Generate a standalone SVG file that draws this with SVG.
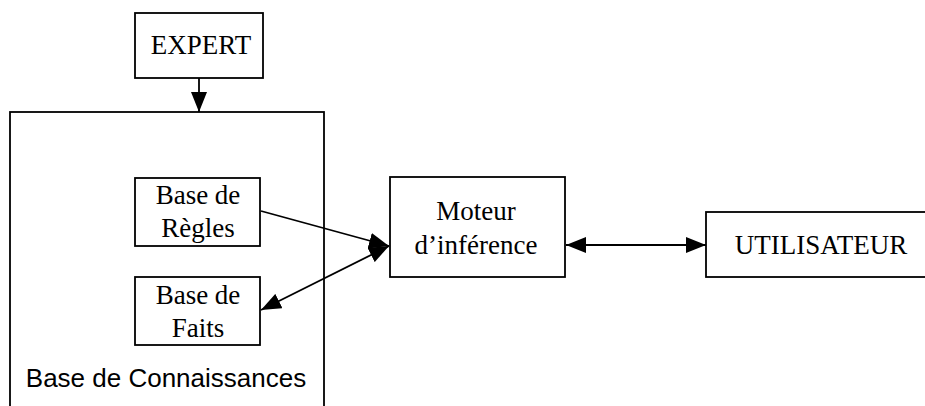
<svg xmlns="http://www.w3.org/2000/svg" width="925" height="406" viewBox="0 0 925 406">
<style>
.box{fill:#fff;stroke:#000;stroke-width:1.8}
.frame{fill:none;stroke:#000;stroke-width:1.8}
.t{font-family:"Liberation Serif","Times New Roman",serif;font-size:27px;fill:#000;text-anchor:middle}
.s{font-family:"Liberation Sans",Arial,sans-serif;font-size:26px;fill:#000;text-anchor:middle}
.c{fill:none;stroke:#000;stroke-width:1.8}
</style>
<defs>
<marker id="ah" markerUnits="userSpaceOnUse" markerWidth="20" markerHeight="16" refX="20" refY="8" orient="auto-start-reverse" viewBox="0 0 20 16">
<path d="M0,0 L20,8 L0,16 z" fill="#000"/>
</marker>
</defs>
<g id="base-connaissances">
<rect class="frame" x="10" y="112" width="314" height="310"/>
<text class="s" x="166" y="387">Base de Connaissances</text>
</g>
<g id="expert">
<rect class="box" x="135" y="13" width="128" height="65"/>
<text class="t" x="201" y="54">EXPERT</text>
</g>
<g id="base-regles">
<rect class="box" x="135" y="178" width="125" height="68"/>
<text class="t" x="198" y="204">Base de</text>
<text class="t" x="198" y="237">Règles</text>
</g>
<g id="base-faits">
<rect class="box" x="135" y="277" width="125" height="68"/>
<text class="t" x="198" y="304">Base de</text>
<text class="t" x="198" y="337">Faits</text>
</g>
<g id="moteur">
<rect class="box" x="390" y="177" width="175" height="100"/>
<text class="t" x="476" y="220">Moteur</text>
<text class="t" x="476" y="254">d’inférence</text>
</g>
<g id="utilisateur">
<rect class="box" x="706" y="212" width="222" height="65"/>
<text class="t" x="821" y="254">UTILISATEUR</text>
</g>
<g id="connectors">
<line class="c" x1="261" y1="211" x2="389" y2="246" marker-end="url(#ah)"/>
<line class="c" x1="199" y1="78" x2="199" y2="112" marker-end="url(#ah)"/>
<line class="c" x1="389" y1="246" x2="261" y2="310" marker-start="url(#ah)" marker-end="url(#ah)"/>
<line class="c" x1="566" y1="245" x2="706" y2="245" marker-start="url(#ah)" marker-end="url(#ah)"/>
</g>
</svg>
